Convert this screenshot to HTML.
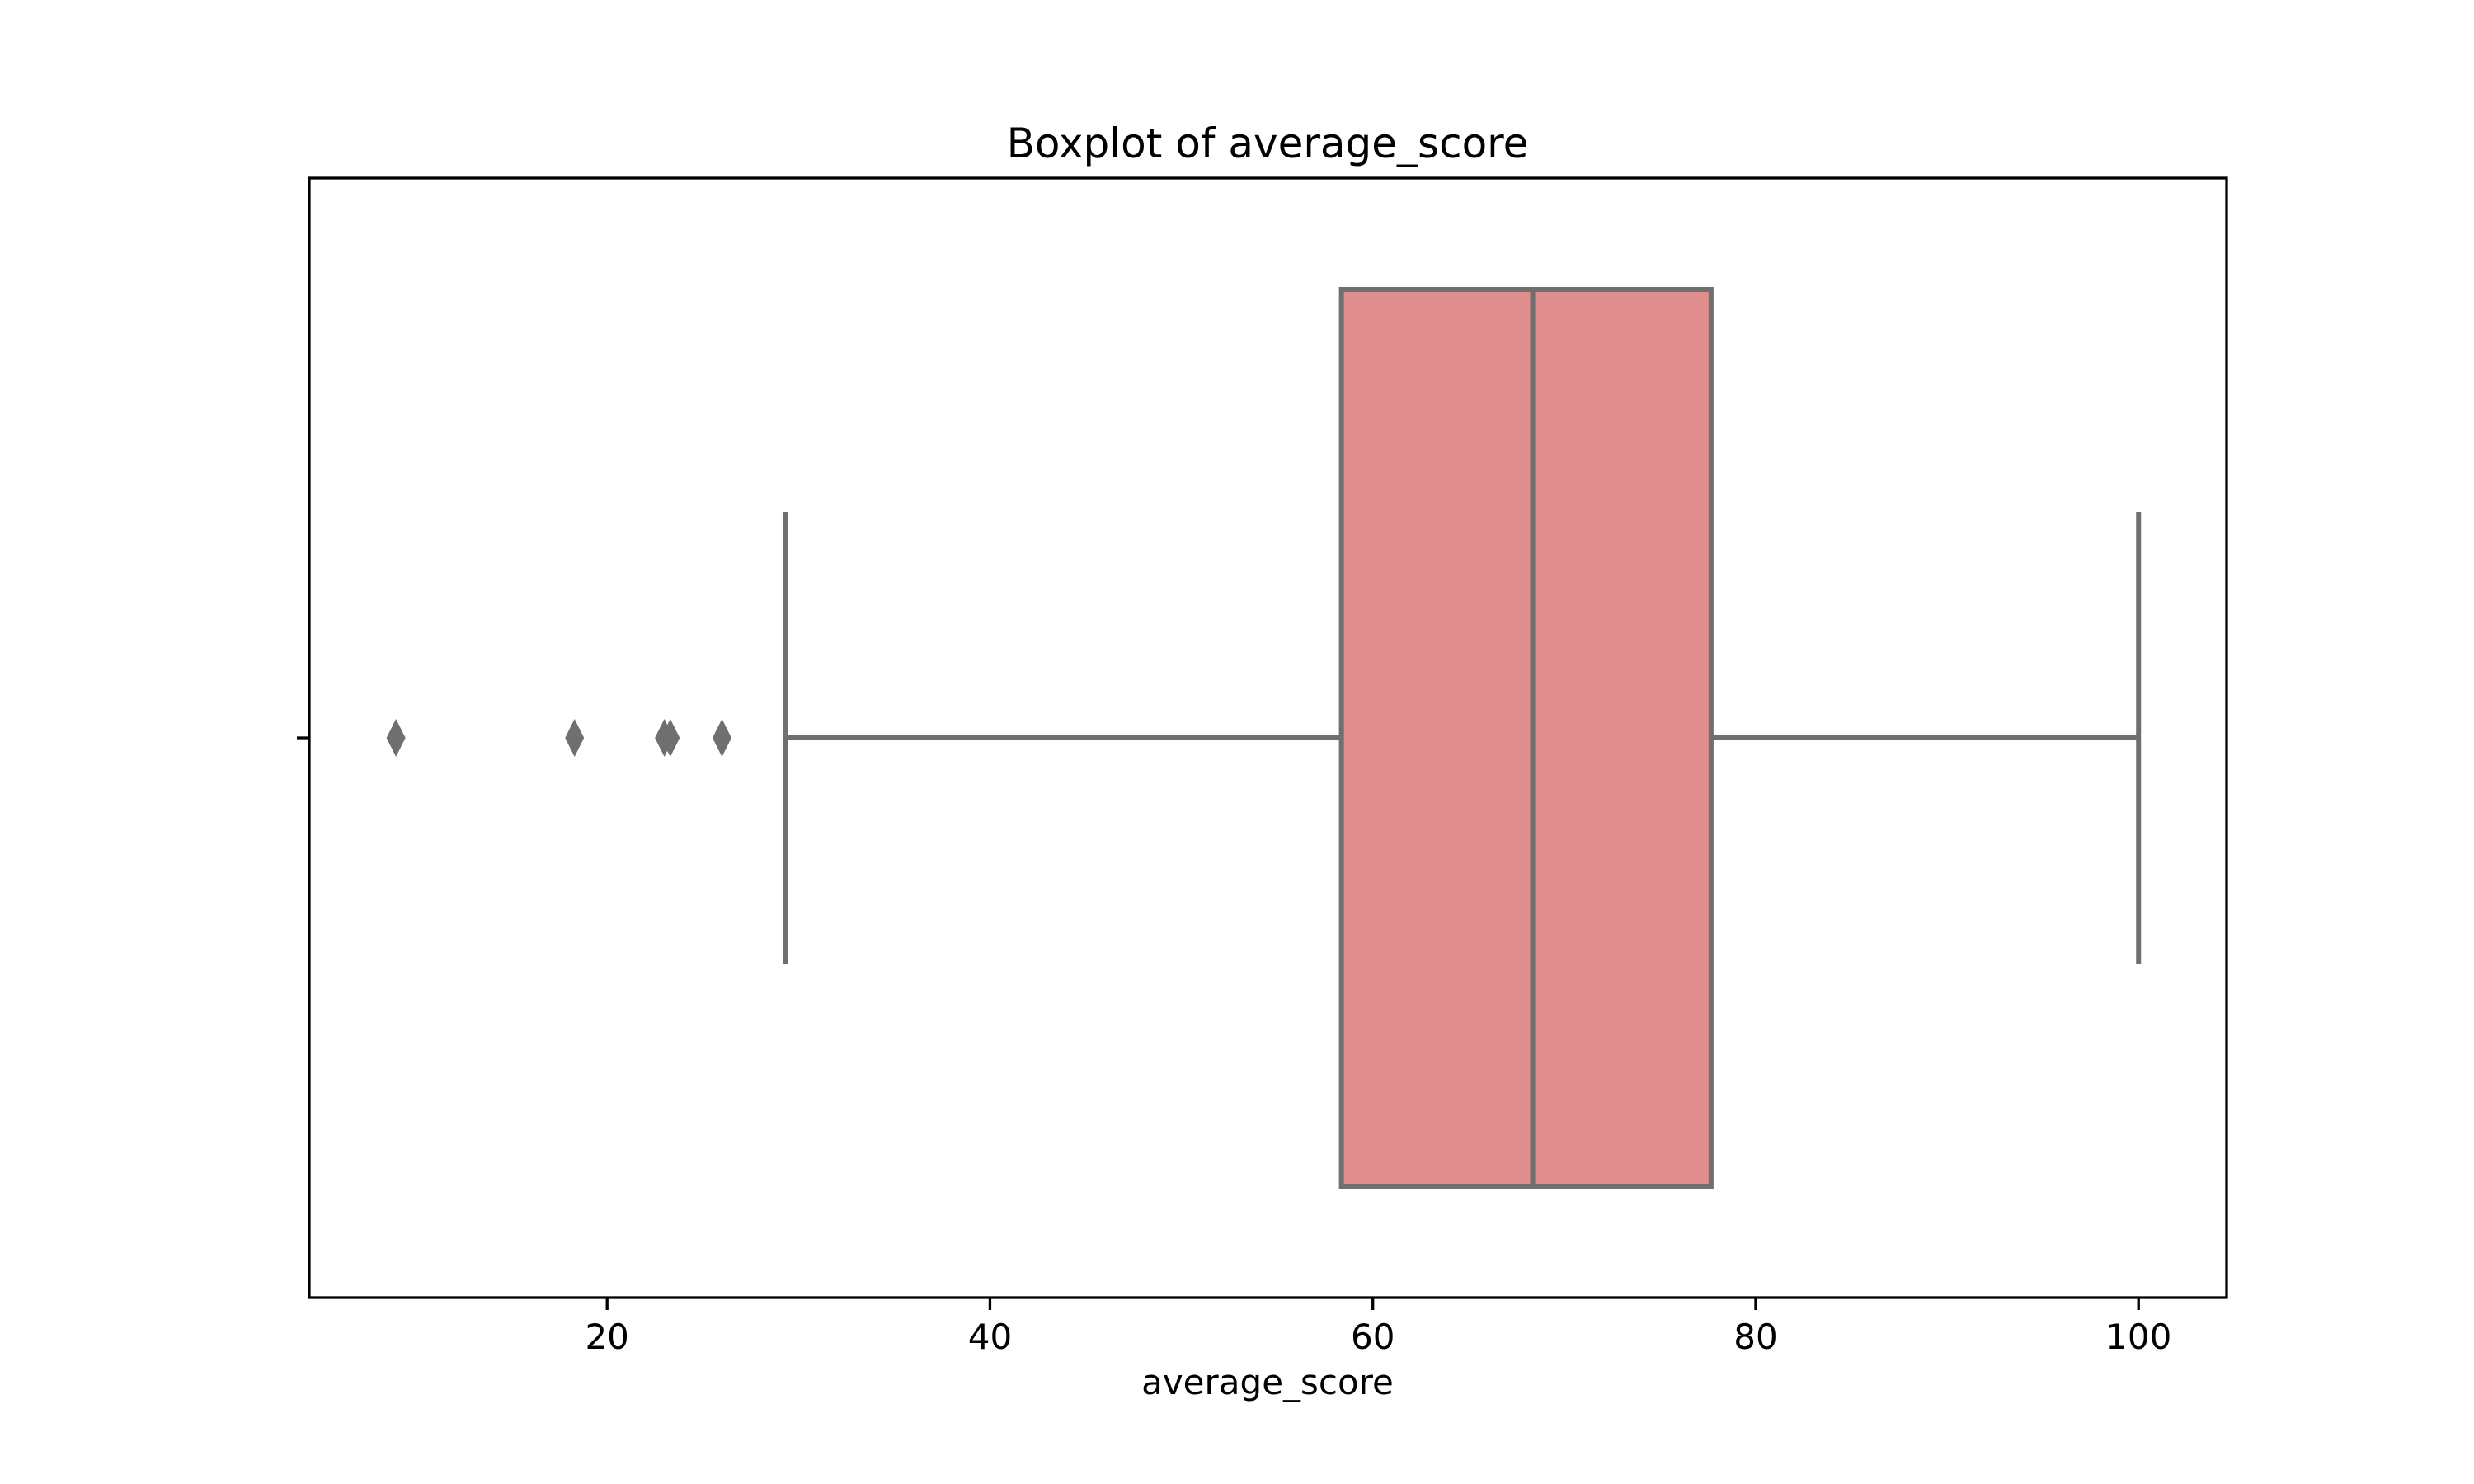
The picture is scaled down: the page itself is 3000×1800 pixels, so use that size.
<!DOCTYPE html>
<html><head><meta charset="utf-8"><style>
html,body{margin:0;padding:0;background:#fff;}
svg{display:block;}
text{font-family:"DejaVu Sans","Liberation Sans",sans-serif;fill:#000;}
</style></head><body>
<svg id="chart" width="3000" height="1800" viewBox="0 0 3000 1800" xmlns="http://www.w3.org/2000/svg">
<rect width="3000" height="1800" fill="#fff"/>
<text x="1537" y="191" font-size="50" text-anchor="middle">Boxplot of average_score</text>
<g id="marks"></g>
<rect x="375" y="216" width="2325" height="1358" fill="none" stroke="#000" stroke-width="3.3"/>
<g id="axis"></g>
<line x1="360" y1="895" x2="375" y2="895" stroke="#000" stroke-width="3.3"/>
<text x="1537" y="1691" font-size="42" text-anchor="middle">average_score</text>
</svg>
<script>
const ticks = [20, 40, 60, 80, 100];
const stats = [29.3, 58.36, 68.35, 77.67, 100]; // whisker low, q1, median, q3, whisker high
const outliers = [8.97, 18.3, 22.99, 23.3, 26.0];

const X0 = 375, X1 = 2700, DMIN = 4.44, DMAX = 104.6;
function x(v){ return X0 + (v - DMIN) / (DMAX - DMIN) * (X1 - X0); }
const CY = 895, BOXH = 1088, CAPH = 548;
const NS = 'http://www.w3.org/2000/svg';
function mk(tag, attrs, parent){ const e = document.createElementNS(NS, tag); for (const k in attrs) e.setAttribute(k, attrs[k]); parent.appendChild(e); return e; }
const marks = document.getElementById('marks');
const axis = document.getElementById('axis');
const S = '#6f6f6f', SW = 6;

let e;
e = mk('line', {x1:x(stats[0]), y1:CY, x2:x(stats[1]), y2:CY, stroke:S, 'stroke-width':SW}, marks);


e = mk('line', {x1:x(stats[3]), y1:CY, x2:x(stats[4]), y2:CY, stroke:S, 'stroke-width':SW}, marks);


e = mk('line', {x1:x(stats[0]), y1:CY-CAPH/2, x2:x(stats[0]), y2:CY+CAPH/2, stroke:S, 'stroke-width':SW}, marks);


e = mk('line', {x1:x(stats[4]), y1:CY-CAPH/2, x2:x(stats[4]), y2:CY+CAPH/2, stroke:S, 'stroke-width':SW}, marks);


e = mk('rect', {x:x(stats[1]), y:CY-BOXH/2, width:x(stats[3])-x(stats[1]), height:BOXH, fill:'#e08d8e', stroke:S, 'stroke-width':SW}, marks);


e = mk('line', {x1:x(stats[2]), y1:CY-BOXH/2, x2:x(stats[2]), y2:CY+BOXH/2, stroke:S, 'stroke-width':SW}, marks);


outliers.forEach(v => {
  const cx = x(v);
  const p = mk('polygon', {points:`${cx},${CY-23} ${cx+11.5},${CY} ${cx},${CY+23} ${cx-11.5},${CY}`, fill:S}, marks);
  
  
});
ticks.forEach(t => {
  const l = mk('line', {x1:x(t), y1:1574, x2:x(t), y2:1589, stroke:'#000', 'stroke-width':3.3}, axis);
  
  
  const tx = mk('text', {x:x(t), y:1636, 'font-size':42, 'text-anchor':'middle'}, axis);
  tx.textContent = t;
  
  
});
</script>
</body></html>
